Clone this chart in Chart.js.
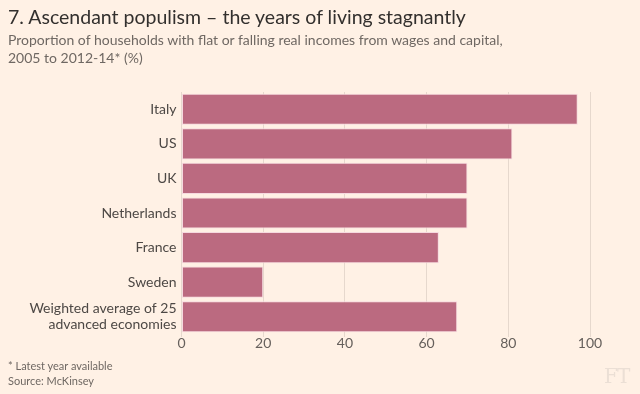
<!DOCTYPE html>
<html>
<head>
<meta charset="utf-8">
<script src="https://cdn.jsdelivr.net/npm/chart.js@4"></script>
<style>
  html, body { margin: 0; padding: 0; background: #fff1e5; }
  body { width: 640px; height: 394px; position: relative; overflow: hidden; font-family: Lato, "Open Sans", sans-serif; }
  #wrap { position: absolute; left: 0; top: 0; width: 640px; height: 394px; }
  .txt { position: absolute; left: 8px; white-space: nowrap; }
  #title { top: 5px; font-size: 19.5px; color: #33302e; }
  #sub { top: 31px; font-size: 14px; line-height: 18px; color: #6f6863; }
  #note { top: 358px; font-size: 11px; line-height: 15px; color: #6f6863; }
  #ft { position: absolute; left: 604px; top: 364px; font-family: "DejaVu Serif", serif; font-size: 20px; color: #ebdfd5; letter-spacing: -1px; }
</style>
</head>
<body>
<div id="wrap"><canvas id="chart" width="640" height="394"></canvas></div>
<div class="txt" id="title">7. Ascendant populism – the years of living stagnantly</div>
<div class="txt" id="sub">Proportion of households with flat or falling real incomes from wages and capital,<br>2005 to 2012-14* (%)</div>
<div class="txt" id="note">* Latest year available<br>Source: McKinsey</div>
<div id="ft">FT</div>
<script>
const categories = ['Italy', 'US', 'UK', 'Netherlands', 'France', 'Sweden', ['Weighted average of 25', 'advanced economies']];
const shares = [97, 81, 70, 70, 63, 20, 67.5];
const xTicks = [0, 20, 40, 60, 80, 100];

const ctx = document.getElementById('chart').getContext('2d');
new Chart(ctx, {
  type: 'bar',
  data: {
    labels: categories,
    datasets: [{
      data: shares,
      backgroundColor: '#bb6a80',
      borderColor: '#f6d9df',
      borderWidth: 1,
      borderSkipped: false,
      barPercentage: 0.9,
      categoryPercentage: 1.0
    }]
  },
  options: {
    indexAxis: 'y',
    responsive: false,
    animation: false,
    layout: { padding: { top: 92, right: 50, bottom: 0, left: 0 } },
    plugins: { legend: { display: false }, tooltip: { enabled: false } },
    scales: {
      x: {
        min: 0,
        max: 100,
        afterBuildTicks: (scale) => { scale.ticks = xTicks.map(v => ({ value: v })); },
        afterFit: (scale) => { scale.height = 60; },
        grid: { color: '#e6d8cd', tickLength: 3, drawTicks: true },
        border: { display: false },
        ticks: { color: '#66605c', font: { family: 'Lato', size: 14 }, padding: -2, maxRotation: 0 }
      },
      y: {
        afterFit: (scale) => { scale.width = 181.5; },
        grid: { display: false, drawTicks: false },
        border: { display: false },
        ticks: { autoSkip: false, color: '#4d4845', font: { family: 'Lato', size: 14, lineHeight: 1.15 }, padding: 5 }
      }
    }
  }
});
</script>
</body>
</html>
